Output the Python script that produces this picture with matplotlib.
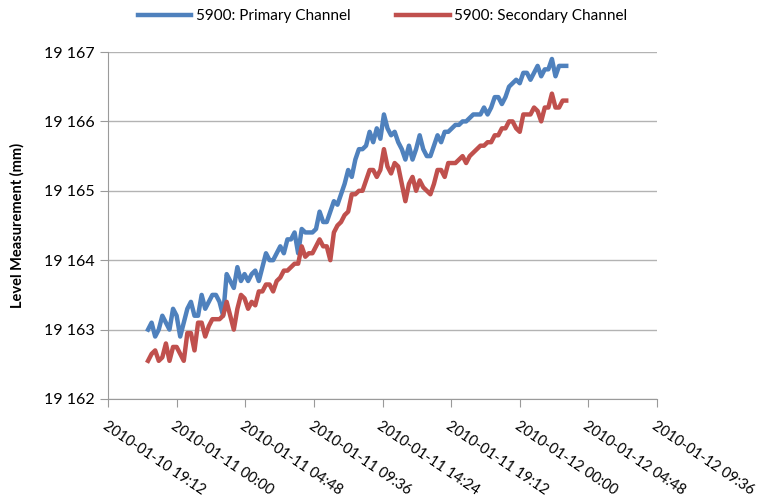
import numpy as np
import pandas as pd
import matplotlib
matplotlib.use("Agg")
import matplotlib.pyplot as plt
import matplotlib.dates as mdates
from matplotlib.ticker import FuncFormatter, MultipleLocator

# readings every 15 min, 2010-01-10 22:00 -> 2010-01-12 03:15
times = pd.date_range("2010-01-10 22:00", periods=118, freq="15min")

primary = [
    19163.0, 19163.1, 19162.9, 19163.0, 19163.2, 19163.1, 19163.0, 19163.3, 19163.2, 19162.9,
    19163.1, 19163.3, 19163.4, 19163.2, 19163.2, 19163.5, 19163.3, 19163.4, 19163.5, 19163.5,
    19163.4, 19163.2, 19163.8, 19163.7, 19163.6, 19163.9, 19163.7, 19163.8, 19163.7, 19163.8,
    19163.85, 19163.7, 19163.9, 19164.1, 19164.0, 19164.0, 19164.1, 19164.2, 19164.1, 19164.3,
    19164.3, 19164.4, 19164.1, 19164.45, 19164.4, 19164.4, 19164.4, 19164.45, 19164.7, 19164.55,
    19164.55, 19164.7, 19164.85, 19164.8, 19164.95, 19165.1, 19165.3, 19165.2, 19165.45, 19165.6,
    19165.6, 19165.65, 19165.85, 19165.7, 19165.9, 19165.75, 19166.1, 19165.9, 19165.8, 19165.85,
    19165.7, 19165.6, 19165.45, 19165.65, 19165.45, 19165.6, 19165.8, 19165.6, 19165.5, 19165.5,
    19165.65, 19165.8, 19165.7, 19165.85, 19165.85, 19165.9, 19165.95, 19165.95, 19166.0, 19166.0,
    19166.05, 19166.1, 19166.1, 19166.1, 19166.2, 19166.1, 19166.2, 19166.35, 19166.35, 19166.25,
    19166.35, 19166.5, 19166.55, 19166.6, 19166.55, 19166.7, 19166.7, 19166.6, 19166.7, 19166.8,
    19166.65, 19166.75, 19166.75, 19166.9, 19166.65, 19166.8, 19166.8, 19166.8,
]

secondary = [
    19162.55, 19162.65, 19162.7, 19162.55, 19162.6, 19162.8, 19162.55, 19162.75, 19162.75, 19162.65,
    19162.55, 19162.95, 19162.95, 19162.7, 19163.1, 19163.1, 19162.9, 19163.05, 19163.15, 19163.15,
    19163.15, 19163.2, 19163.4, 19163.2, 19163.0, 19163.3, 19163.5, 19163.45, 19163.3, 19163.4,
    19163.35, 19163.55, 19163.55, 19163.65, 19163.65, 19163.55, 19163.7, 19163.75, 19163.85, 19163.85,
    19163.9, 19163.95, 19163.95, 19164.2, 19164.05, 19164.1, 19164.1, 19164.2, 19164.3, 19164.2,
    19164.2, 19164.0, 19164.4, 19164.5, 19164.55, 19164.65, 19164.7, 19164.95, 19164.95, 19165.0,
    19165.0, 19165.15, 19165.3, 19165.3, 19165.2, 19165.3, 19165.6, 19165.35, 19165.25, 19165.4,
    19165.35, 19165.1, 19164.85, 19165.1, 19165.2, 19165.0, 19165.15, 19165.05, 19165.0, 19164.95,
    19165.1, 19165.3, 19165.3, 19165.2, 19165.4, 19165.4, 19165.4, 19165.45, 19165.5, 19165.4,
    19165.5, 19165.55, 19165.6, 19165.65, 19165.65, 19165.7, 19165.7, 19165.8, 19165.8, 19165.9,
    19165.9, 19166.0, 19166.0, 19165.9, 19165.85, 19166.1, 19166.1, 19166.1, 19166.2, 19166.15,
    19166.0, 19166.2, 19166.2, 19166.4, 19166.2, 19166.2, 19166.3, 19166.3,
]

series_names = ["5900: Primary Channel", "5900: Secondary Channel"]
colors = ["#4F81BD", "#C0504D"]

plt.rcParams["font.family"] = ["Lato", "DejaVu Sans"]

fig = plt.figure(figsize=(7.65, 5.04), dpi=100)
ax = fig.add_axes([108 / 765, 1 - 399 / 504, 549 / 765, 347 / 504])

for vals, name, c in zip([primary, secondary], series_names, colors):
    ax.plot(times, vals, color=c, lw=3.2, label=name)

# x axis: ticks every 4.8 h
x0 = pd.Timestamp("2010-01-10 19:12")
ax.set_xlim(x0, x0 + pd.Timedelta(hours=38.4))
ax.set_xticks([x0 + pd.Timedelta(hours=4.8 * k) for k in range(9)])


def fmt_time(v, pos):
    t = pd.Timestamp(mdates.num2date(v)).tz_localize(None).round("min")
    return t.strftime("%Y-%m-%d %H:%M")


ax.xaxis.set_major_formatter(FuncFormatter(fmt_time))
plt.setp(ax.get_xticklabels(), rotation=-34, ha="left", va="top",
         rotation_mode="anchor", fontsize=10.5)

ax.set_ylim(19162, 19167)
ax.yaxis.set_major_locator(MultipleLocator(1))
ax.yaxis.set_major_formatter(FuncFormatter(lambda v, p: f"{int(v):,}".replace(",", " ")))
ax.grid(axis="y", color="#b3b3b3", lw=1)
ax.set_axisbelow(True)

for s in ["top", "right"]:
    ax.spines[s].set_visible(False)
for s in ["left", "bottom"]:
    ax.spines[s].set_color("#9a9a9a")
ax.tick_params(axis="both", colors="#9a9a9a", length=6, labelcolor="black")
ax.tick_params(axis="y", labelsize=11.5)
ax.tick_params(axis="x", pad=8)
for lab in ax.get_xticklabels():
    lab.set_fontsize(10.5)

ax.set_ylabel("Level Measurement (mm)", fontsize=10.5, fontweight="bold", labelpad=14)

fig.legend(loc="center", bbox_to_anchor=(0.5, 1 - 16 / 504), ncol=2, frameon=False,
           fontsize=11, handlelength=3.5, columnspacing=3, handletextpad=0.3)

fig.savefig("out.png", dpi=100)
